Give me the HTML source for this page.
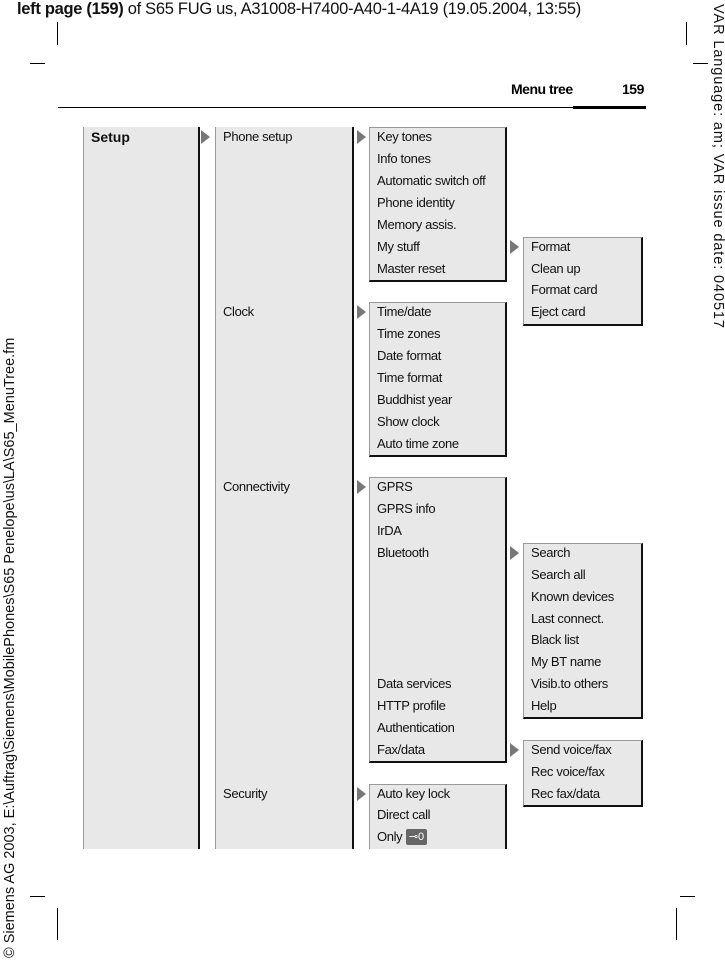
<!DOCTYPE html>
<html><head><meta charset="utf-8"><style>
body{margin:0;width:725px;height:961px;background:#fff;position:relative;overflow:hidden;font-family:"Liberation Sans",sans-serif;}
.a{position:absolute}
.t{position:absolute;font-size:13px;letter-spacing:-0.35px;color:#111;white-space:nowrap}
.col{position:absolute;background:#e8e8e8;border-left:1px solid #999;border-right:2px solid #111}
.box{position:absolute;background:#e8e8e8;border-left:1px solid #999;border-top:1px solid #999;border-right:2px solid #111;border-bottom:2px solid #111;box-sizing:border-box}
.tri{position:absolute;width:0;height:0;border-top:7px solid transparent;border-bottom:7px solid transparent;border-left:9px solid #777}
.ln{position:absolute;background:#000}
</style></head><body>
<div class="a" style="left:17px;top:0;font-size:16.5px;letter-spacing:-0.3px;color:#111;white-space:nowrap"><b>left page (159)</b> of S65 FUG us, A31008-H7400-A40-1-4A19 (19.05.2004, 13:55)</div>
<div class="a" style="left:726px;top:4px;font-size:14.5px;letter-spacing:0.9px;transform-origin:0 0;transform:rotate(90deg);white-space:nowrap;color:#111">VAR Language: am; VAR issue date: 040517</div>
<div class="a" style="left:2px;top:958px;font-size:14.5px;transform-origin:0 0;transform:rotate(-90deg);white-space:nowrap;color:#111">© Siemens AG 2003, E:\Auftrag\Siemens\MobilePhones\S65 Penelope\us\LA\S65_MenuTree.fm</div>
<div class="ln" style="left:57px;top:22px;width:1px;height:23px"></div>
<div class="ln" style="left:30px;top:63px;width:15px;height:1px"></div>
<div class="ln" style="left:686px;top:22px;width:1px;height:23px"></div>
<div class="ln" style="left:693px;top:63px;width:15px;height:1px"></div>
<div class="ln" style="left:30px;top:896px;width:15px;height:1px"></div>
<div class="ln" style="left:57px;top:908px;width:1px;height:32px"></div>
<div class="ln" style="left:680px;top:896px;width:15px;height:1px"></div>
<div class="ln" style="left:676px;top:908px;width:1px;height:32px"></div>
<div class="a" style="left:511px;top:81px;font-size:14px;font-weight:bold;letter-spacing:-0.5px">Menu tree</div>
<div class="a" style="left:622px;top:81px;font-size:14px;font-weight:bold;letter-spacing:-0.5px">159</div>
<div class="ln" style="left:58px;top:107px;width:588px;height:1px"></div>
<div class="ln" style="left:573px;top:106px;width:73px;height:3px"></div>

<div class="col" style="left:83px;top:127px;width:114px;height:722px"></div>
<div class="col" style="left:215px;top:127px;width:136px;height:722px"></div>
<div class="t" style="left:91px;top:129px;font-size:14px;font-weight:bold;letter-spacing:0">Setup</div>
<div class="tri" style="left:201px;top:130px"></div>
<div class="tri" style="left:357px;top:130px"></div>
<div class="tri" style="left:357px;top:305px"></div>
<div class="tri" style="left:357px;top:480px"></div>
<div class="tri" style="left:357px;top:787px"></div>
<div class="tri" style="left:510px;top:240px"></div>
<div class="tri" style="left:510px;top:546px"></div>
<div class="tri" style="left:510px;top:743px"></div>
<div class="t" style="left:223px;top:129px">Phone setup</div>
<div class="t" style="left:223px;top:304px">Clock</div>
<div class="t" style="left:223px;top:479px">Connectivity</div>
<div class="t" style="left:223px;top:786px">Security</div>

<div class="box" style="left:369px;top:127px;width:138px;height:155px"></div>
<div class="box" style="left:369px;top:302px;width:138px;height:155px"></div>
<div class="box" style="left:369px;top:477px;width:138px;height:286px"></div>
<div class="box" style="left:369px;top:784px;width:138px;height:65px;border-bottom:none"></div>
<div class="box" style="left:523px;top:237px;width:120px;height:89px"></div>
<div class="box" style="left:523px;top:543px;width:120px;height:176px"></div>
<div class="box" style="left:523px;top:740px;width:120px;height:67px"></div>

<div class="t" style="left:377px;top:129px">Key tones</div>
<div class="t" style="left:377px;top:151px">Info tones</div>
<div class="t" style="left:377px;top:173px">Automatic switch off</div>
<div class="t" style="left:377px;top:195px">Phone identity</div>
<div class="t" style="left:377px;top:217px">Memory assis.</div>
<div class="t" style="left:377px;top:239px">My stuff</div>
<div class="t" style="left:377px;top:261px">Master reset</div>
<div class="t" style="left:377px;top:304px">Time/date</div>
<div class="t" style="left:377px;top:326px">Time zones</div>
<div class="t" style="left:377px;top:348px">Date format</div>
<div class="t" style="left:377px;top:370px">Time format</div>
<div class="t" style="left:377px;top:392px">Buddhist year</div>
<div class="t" style="left:377px;top:414px">Show clock</div>
<div class="t" style="left:377px;top:436px">Auto time zone</div>
<div class="t" style="left:377px;top:479px">GPRS</div>
<div class="t" style="left:377px;top:501px">GPRS info</div>
<div class="t" style="left:377px;top:523px">IrDA</div>
<div class="t" style="left:377px;top:545px">Bluetooth</div>
<div class="t" style="left:377px;top:676px">Data services</div>
<div class="t" style="left:377px;top:698px">HTTP profile</div>
<div class="t" style="left:377px;top:720px">Authentication</div>
<div class="t" style="left:377px;top:742px">Fax/data</div>
<div class="t" style="left:377px;top:786px">Auto key lock</div>
<div class="t" style="left:377px;top:807px">Direct call</div>
<div class="t" style="left:377px;top:829px">Only</div>
<div class="a" style="left:406px;top:829px;width:21px;height:16px;background:#666;border-radius:2px;color:#fff;font-size:11px;line-height:16px;text-align:center">⊸0</div>

<div class="t" style="left:531px;top:239px">Format</div>
<div class="t" style="left:531px;top:261px">Clean up</div>
<div class="t" style="left:531px;top:282px">Format card</div>
<div class="t" style="left:531px;top:304px">Eject card</div>
<div class="t" style="left:531px;top:545px">Search</div>
<div class="t" style="left:531px;top:567px">Search all</div>
<div class="t" style="left:531px;top:589px">Known devices</div>
<div class="t" style="left:531px;top:611px">Last connect.</div>
<div class="t" style="left:531px;top:632px">Black list</div>
<div class="t" style="left:531px;top:654px">My BT name</div>
<div class="t" style="left:531px;top:676px">Visib.to others</div>
<div class="t" style="left:531px;top:698px">Help</div>
<div class="t" style="left:531px;top:742px">Send voice/fax</div>
<div class="t" style="left:531px;top:764px">Rec voice/fax</div>
<div class="t" style="left:531px;top:786px">Rec fax/data</div>
</body></html>
